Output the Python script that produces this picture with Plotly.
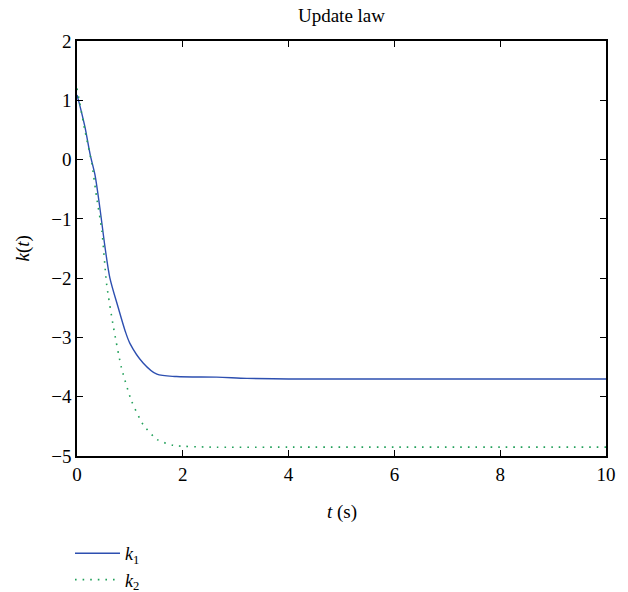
import plotly.graph_objects as go

# k1 (solid blue)
t1 = [0, 0.06, 0.15, 0.25, 0.34, 0.43, 0.53, 0.62, 0.78, 0.91, 1.0, 1.25, 1.51, 1.88, 2.64, 3.21, 4, 6, 8, 10]
k1 = [1.09, 0.89, 0.55, 0.08, -0.26, -0.80, -1.48, -1.99, -2.50, -2.89, -3.10, -3.43, -3.62, -3.66, -3.67, -3.69, -3.70, -3.70, -3.70, -3.70]

# k2 (dotted green)
t2 = [0, 0.15, 0.28, 0.37, 0.47, 0.56, 0.69, 0.84, 1.03, 1.25, 1.51, 1.82, 2.51, 4, 6, 8, 10]
k2 = [1.2, 0.49, -0.07, -0.63, -1.20, -2.10, -2.83, -3.51, -4.07, -4.47, -4.72, -4.82, -4.85, -4.85, -4.85, -4.85, -4.85]

x_ticks = [0, 2, 4, 6, 8, 10]
y_ticks = [-5, -4, -3, -2, -1, 0, 1, 2]
y_tick_text = ["\u22125", "\u22124", "\u22123", "\u22122", "\u22121", "0", "1", "2"]

FONT = "Liberation Serif"
W, H = 628, 592
L, R, T, B = 77, 22, 41, 136

fig = go.Figure()
fig.add_trace(go.Scatter(x=t1, y=k1, mode="lines", name="<i>k</i><sub>1</sub>",
                         line=dict(color="#2d4fb0", width=1.4, shape="spline", smoothing=0.8)))
fig.add_trace(go.Scatter(x=t2, y=k2, mode="lines", name="<i>k</i><sub>2</sub>",
                         line=dict(color="#22a05a", width=1.6, dash="1.6px,6px", shape="spline", smoothing=0.6)))

axis_common = dict(showline=True, linecolor="black", linewidth=1.5, mirror="ticks",
                   ticks="inside", ticklen=6, tickwidth=1, tickcolor="black",
                   showgrid=False, zeroline=False,
                   tickfont=dict(family=FONT, size=19, color="black"))

fig.update_layout(
    width=W, height=H,
    margin=dict(l=L, r=R, t=T, b=B, autoexpand=False),
    paper_bgcolor="white", plot_bgcolor="white",
    font=dict(family=FONT, color="black"),
    title=dict(text="Update law", x=(L + W - R) / 2 / W, xanchor="center",
               y=1 - 15 / H, yanchor="middle", font=dict(family=FONT, size=19, color="black")),
    xaxis=dict(range=[0, 10], tickvals=x_ticks, **axis_common),
    yaxis=dict(range=[-5, 2], tickvals=y_ticks, ticktext=y_tick_text, **axis_common),
    legend=dict(xref="container", yref="container", x=70 / W, y=1 - 535 / H,
                xanchor="left", yanchor="top", bgcolor="rgba(0,0,0,0)",
                font=dict(family=FONT, size=18, color="black"), itemwidth=45),
    showlegend=True,
)

# axis titles
fig.add_annotation(text="<i>t</i> (s)", xref="paper", yref="paper",
                   x=0.5, y=-(512 - (H - B)) / (H - T - B), xanchor="center", yanchor="middle",
                   showarrow=False, font=dict(family=FONT, size=19, color="black"))
fig.add_annotation(text="<i>k</i>(<i>t</i>)", xref="paper", yref="paper",
                   x=-(L - 22) / (W - L - R), y=0.5, xanchor="center", yanchor="middle",
                   textangle=-90, showarrow=False, font=dict(family=FONT, size=19, color="black"))

fig.write_html("out.html", config={"displayModeBar": False},
               post_script="document.body.style.margin='0';")
